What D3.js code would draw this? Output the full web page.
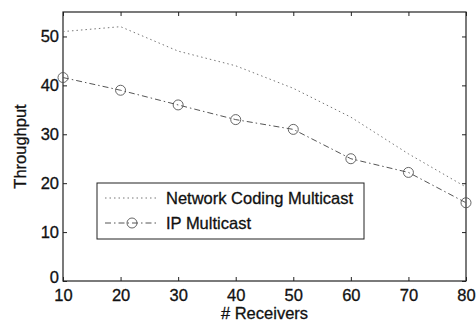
<!DOCTYPE html>
<html>
<head>
<meta charset="utf-8">
<script src="https://cdn.jsdelivr.net/npm/d3@7"></script>
<style>
  body { margin: 0; background: #fff; }
  text { font-family: "Liberation Sans", Arial, sans-serif; fill: #111; }
</style>
</head>
<body>
<div id="chart"></div>
<script>
const receivers = [10, 20, 30, 40, 50, 60, 70, 80];
const ncMulticast = [51, 52, 47, 44, 39.4, 33.5, 26, 19.2];
const ipMulticast = [41.6, 39, 36, 33, 31, 25, 22.2, 16];
const xTicks = [10, 20, 30, 40, 50, 60, 70, 80];
const yTicks = [0, 10, 20, 30, 40, 50];

const width = 476, height = 322;
const margin = {top: 12, right: 10, bottom: 41, left: 63};
const fontSize = "16.5px";

const svg = d3.select("#chart")
    .append("svg")
    .attr("width", width)
    .attr("height", height);

const x = d3.scaleLinear().domain([10, 80]).range([margin.left, width - margin.right]);
const y = d3.scaleLinear().domain([0, 55]).range([height - margin.bottom, margin.top]);

// frame
svg.append("rect")
    .attr("x", x(10)).attr("y", y(55))
    .attr("width", x(80) - x(10)).attr("height", y(0) - y(55))
    .attr("fill", "none").attr("stroke", "#222").attr("stroke-width", 1.2);

// axes, ticks pointing inside
const tickStyle = g => {
    g.select(".domain").remove();
    g.selectAll("line").attr("stroke", "#222");
    g.selectAll("text").style("font-size", fontSize).attr("stroke", "#111").attr("stroke-width", 0.3);
};
svg.append("g")
    .attr("transform", `translate(0,${y(0)})`)
    .call(d3.axisBottom(x).tickValues(xTicks).tickSize(-4).tickPadding(8))
    .call(tickStyle);
svg.append("g")
    .attr("transform", `translate(0,${y(55)})`)
    .call(d3.axisTop(x).tickValues(xTicks).tickSize(-4).tickFormat(""))
    .call(tickStyle);
const yAxis = svg.append("g")
    .attr("transform", `translate(${x(10)},0)`)
    .call(d3.axisLeft(y).tickValues(yTicks).tickSize(-4).tickPadding(4))
    .call(tickStyle);
// lift the "0" a little so it clears the "10" below it
yAxis.selectAll(".tick text").filter(d => d === 0).attr("dy", "0.1em");
svg.append("g")
    .attr("transform", `translate(${x(80)},0)`)
    .call(d3.axisRight(y).tickValues(yTicks).tickSize(-4).tickFormat(""))
    .call(tickStyle);

// lines
const line = d3.line().x(d => x(d[0])).y(d => y(d[1]));
const ncData = receivers.map((r, i) => [r, ncMulticast[i]]);
const ipData = receivers.map((r, i) => [r, ipMulticast[i]]);

svg.append("path")
    .datum(ncData)
    .attr("d", line)
    .attr("fill", "none")
    .attr("stroke", "#777")
    .attr("stroke-width", 1)
    .attr("stroke-dasharray", "1.5,3");

svg.append("path")
    .datum(ipData)
    .attr("d", line)
    .attr("fill", "none")
    .attr("stroke", "#555")
    .attr("stroke-width", 1)
    .attr("stroke-dasharray", "6,3,1.5,3");

svg.selectAll("circle.ip")
    .data(ipData)
    .enter()
    .append("circle")
    .attr("class", "ip")
    .attr("cx", d => x(d[0]))
    .attr("cy", d => y(d[1]))
    .attr("r", 5)
    .attr("fill", "none")
    .attr("stroke", "#555")
    .attr("stroke-width", 0.9);

// legend
const lg = svg.append("g").attr("transform", "translate(97,183)");
lg.append("rect")
    .attr("width", 267).attr("height", 56)
    .attr("fill", "#fff").attr("stroke", "#222").attr("stroke-width", 1);
lg.append("line")
    .attr("x1", 8).attr("x2", 60).attr("y1", 15).attr("y2", 15)
    .attr("stroke", "#777").attr("stroke-dasharray", "1.5,3");
lg.append("line")
    .attr("x1", 8).attr("x2", 60).attr("y1", 40).attr("y2", 40)
    .attr("stroke", "#555").attr("stroke-dasharray", "6,3,1.5,3");
lg.append("circle")
    .attr("cx", 35).attr("cy", 40).attr("r", 5)
    .attr("fill", "none").attr("stroke", "#555").attr("stroke-width", 0.9);
lg.append("text").attr("x", 69).attr("y", 21)
    .style("font-size", fontSize).attr("stroke", "#111").attr("stroke-width", 0.3)
    .text("Network Coding Multicast");
lg.append("text").attr("x", 69).attr("y", 46)
    .style("font-size", fontSize).attr("stroke", "#111").attr("stroke-width", 0.3)
    .text("IP Multicast");

// axis labels
svg.append("text")
    .attr("x", (x(10) + x(80)) / 2).attr("y", 319)
    .attr("text-anchor", "middle")
    .style("font-size", fontSize).attr("stroke", "#111").attr("stroke-width", 0.3)
    .text("# Receivers");
svg.append("text")
    .attr("transform", `translate(26,${(y(0) + y(55)) / 2}) rotate(-90)`)
    .attr("text-anchor", "middle")
    .style("font-size", fontSize).attr("stroke", "#111").attr("stroke-width", 0.3)
    .text("Throughput");
</script>
</body>
</html>
